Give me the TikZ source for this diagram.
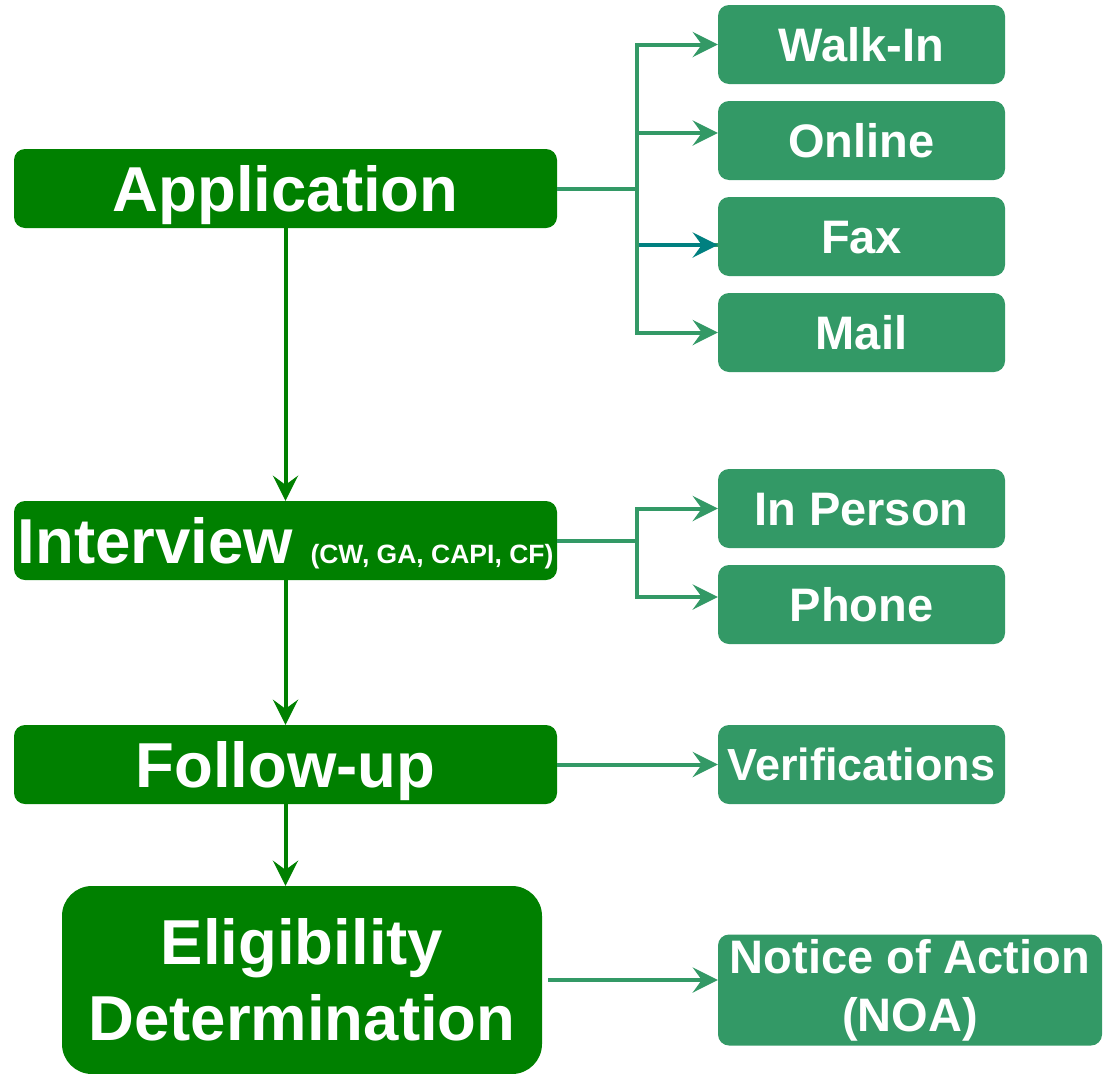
\documentclass[tikz,border=0pt]{standalone}
\usepackage{fontspec}
\setmainfont{Liberation Sans}
\usetikzlibrary{arrows.meta}
\definecolor{dkgreen}{HTML}{008000}
\definecolor{ltgreen}{HTML}{339966}
\definecolor{tealc}{HTML}{008080}
\tikzset{
  mainbox/.style={fill=dkgreen, text=white, rounded corners=11pt, inner sep=0pt,
    minimum width=543pt, minimum height=79pt,
    font=\fontsize{63.5}{76}\selectfont\bfseries, text height=45.5pt, text depth=0pt},
  subbox/.style={fill=ltgreen, text=white, rounded corners=11pt, inner sep=0pt,
    minimum width=287pt, minimum height=79pt,
    font=\fontsize{47}{58}\selectfont\bfseries, text height=33.7pt, text depth=0pt},
  tip/.style={-{Stealth[length=25pt,width=25pt,inset=9pt]}},
  darkline/.style={draw=dkgreen, line width=4pt, tip},
  lightline/.style={draw=ltgreen, line width=4pt, tip},
  lightbus/.style={draw=ltgreen, line width=4pt},
}
\begin{document}
\begin{tikzpicture}[x=1pt,y=-1pt]
\useasboundingbox (0,0) rectangle (1109,1074);
% main column
\node[mainbox] (app) at (285.5,188.5) {Application};
\node[mainbox] (int) at (285.5,540.5) {Interview {\fontsize{26.5}{30}\selectfont (CW, GA, CAPI, CF)}};
\node[mainbox] (fu) at (285.5,764.5) {Follow-up};
\node[mainbox, minimum width=480pt, minimum height=188pt, rounded corners=30pt,
      text height=, text depth=, align=center] (elig) at (302,980) {Eligibility\\Determination};
% right boxes
\node[subbox] (walk) at (861.5,44.5) {Walk-In};
\node[subbox] (online) at (861.5,140.5) {Online};
\node[subbox] (fax) at (861.5,236.5) {Fax};
\node[subbox] (mail) at (861.5,332.5) {Mail};
\node[subbox] (inp) at (861.5,508.5) {In Person};
\node[subbox] (phone) at (861.5,604.5) {Phone};
\node[subbox, font=\fontsize{45}{54}\selectfont\bfseries, text height=32.2pt] (ver) at (861.5,764.5) {Verifications};
\node[subbox, minimum width=384pt, minimum height=111pt, text height=, text depth=, align=center] (noa) at (910,990) {Notice of Action\\(NOA)};
% bus coordinates
\coordinate (abus) at (637,188.5);
\coordinate (ibus) at (637,540.5);
\coordinate (faxin) at ([yshift=-8.5pt]fax.west);
\coordinate (onlin) at ([yshift=7.5pt]online.west);
\coordinate (phonein) at ([yshift=7.5pt]phone.west);
% vertical flow
\draw[darkline] (app.south) -- (int.north);
\draw[darkline] (int.south) -- (fu.north);
\draw[darkline] (fu.south) -- (fu.south |- elig.north);
% application branches
\draw[lightbus] (app.east) -- (abus);
\draw[lightbus] (abus) |- (faxin);
\draw[draw=tealc, line width=4pt, tip] (abus |- faxin) -- (faxin);
\draw[lightline] (abus) |- (walk.west);
\draw[lightline] (abus) |- (onlin);
\draw[lightline] (abus) |- (mail.west);
% interview branches
\draw[lightbus] (int.east) -- (ibus);
\draw[lightline] (ibus) |- (inp.west);
\draw[lightline] (ibus) |- (phonein);
% follow-up
\draw[lightline] (fu.east) -- (ver.west);
% eligibility
\draw[lightline] ([xshift=6pt]elig.east) -- (elig.east -| noa.west);
\end{tikzpicture}
\end{document}
